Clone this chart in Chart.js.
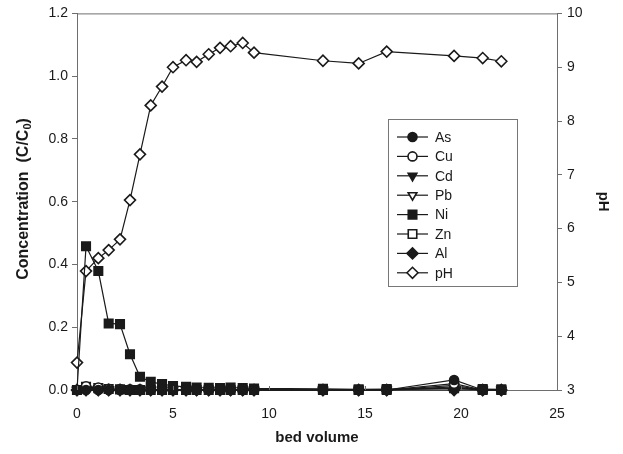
<!DOCTYPE html>
<html>
<head>
<meta charset="utf-8">
<script src="https://cdn.jsdelivr.net/npm/chart.js@4"></script>
<style>
  html, body { margin: 0; padding: 0; background: #fff; }
  #wrap { position: relative; width: 623px; height: 454px; }
</style>
</head>
<body>
<div id="wrap"><canvas id="bv-chart"></canvas></div>
<script>
const bedVolume = [0, 0.47, 1.11, 1.65, 2.24, 2.76, 3.28, 3.84, 4.43, 5.0, 5.68, 6.23, 6.86, 7.45, 8.0, 8.63, 9.22, 12.81, 14.67, 16.13, 19.64, 21.13, 22.1];
const pH = [3.51, 5.21, 5.45, 5.60, 5.80, 6.53, 7.38, 8.29, 8.64, 9.00, 9.13, 9.10, 9.24, 9.36, 9.39, 9.45, 9.27, 9.12, 9.07, 9.29, 9.21, 9.17, 9.11];
const ni = [0, 0.458, 0.379, 0.212, 0.210, 0.114, 0.042, 0.026, 0.019, 0.013, 0.010, 0.008, 0.007, 0.006, 0.008, 0.006, 0.005, 0.004, 0.002, 0.003, 0.006, 0.003, 0.002];
const as = [0, 0, 0, 0, 0, 0, 0, 0, 0, 0, 0, 0, 0, 0, 0, 0, 0, 0, 0, 0, 0.032, 0, 0];
const cu = [0, 0.012, 0.008, 0.004, 0.003, 0.002, 0.002, 0.001, 0, 0, 0, 0, 0, 0, 0, 0, 0, 0, 0, 0, 0.02, 0, 0];
const cd = [0, 0, 0, 0, 0, 0, 0, 0, 0, 0, 0, 0, 0, 0, 0, 0, 0, 0, 0, 0, 0.005, 0, 0];
const pb = [0, 0.004, 0.005, 0.002, 0, 0, 0, 0, 0, 0, 0, 0, 0, 0, 0, 0, 0, 0, 0, 0, 0.01, 0, 0];
const zn = [0, 0.01, 0.006, 0.003, 0.002, 0, 0, 0, 0, 0, 0, 0, 0, 0, 0, 0, 0, 0, 0, 0, 0.015, 0, 0];
const al = [0, 0, 0, 0, 0, 0, 0, 0, 0, 0, 0, 0, 0, 0, 0, 0, 0, 0, 0, 0, 0, 0, 0];

const ink = '#1a1a1a';
const axisGrey = '#6e6e6e';
const FONT = "'Liberation Sans', Arial, sans-serif";

const pts = arr => arr.map((v, i) => ({ x: bedVolume[i], y: v }));

function series(label, data, style, filled, size, rot, axis) {
  return {
    label: label,
    data: pts(data),
    yAxisID: axis || 'y',
    borderColor: ink,
    borderWidth: 1.2,
    pointStyle: style,
    pointRotation: rot || 0,
    pointRadius: size,
    pointBorderWidth: 1.6,
    pointBorderColor: ink,
    pointBackgroundColor: filled ? ink : '#fff',
    tension: 0,
    clip: false,
  };
}

// frame, inward x ticks, left title with subscript, boxed legend
const extras = {
  id: 'extras',
  afterDraw(chart) {
    const ctx = chart.ctx;
    const a = chart.chartArea;
    ctx.save();
    ctx.strokeStyle = axisGrey;
    ctx.lineWidth = 1;
    ctx.beginPath();
    ctx.moveTo(a.left, a.top + 0.5);
    ctx.lineTo(a.right, a.top + 0.5);
    ctx.stroke();

    const xs = chart.scales.x;
    xs.ticks.forEach(t => {
      const px = Math.round(xs.getPixelForValue(t.value)) + 0.5;
      ctx.beginPath();
      ctx.moveTo(px, a.bottom);
      ctx.lineTo(px, a.bottom - 4);
      ctx.stroke();
    });

    // y title: Concentration  (C/C0) with subscript
    ctx.translate(24, 199);
    ctx.rotate(-Math.PI / 2);
    ctx.fillStyle = ink;
    ctx.textBaseline = 'middle';
    const big = 'bold 16px ' + FONT, small = 'bold 11px ' + FONT;
    const p1 = 'Concentration  (C/C', p2 = '0', p3 = ')';
    ctx.font = big;
    const w1 = ctx.measureText(p1).width, w3 = ctx.measureText(p3).width;
    ctx.font = small;
    const w2 = ctx.measureText(p2).width;
    let x0 = -(w1 + w2 + w3) / 2;
    ctx.font = big;
    ctx.fillText(p1, x0, 0);
    ctx.font = small;
    ctx.fillText(p2, x0 + w1, 4);
    ctx.font = big;
    ctx.fillText(p3, x0 + w1 + w2, 0);
    ctx.setTransform(1, 0, 0, 1, 0, 0);

    const bx = 388, by = 119, bw = 129, bh = 167;
    ctx.fillStyle = '#fff';
    ctx.fillRect(bx, by, bw, bh);
    ctx.strokeStyle = '#777';
    ctx.strokeRect(bx + 0.5, by + 0.5, bw, bh);
    ctx.font = '14px ' + FONT;
    ctx.textBaseline = 'middle';
    chart.data.datasets.forEach((ds, i) => {
      const y = 137 + i * 19.4;
      ctx.strokeStyle = ink;
      ctx.lineWidth = 1.2;
      ctx.beginPath();
      ctx.moveTo(397, y);
      ctx.lineTo(428, y);
      ctx.stroke();
      ctx.fillStyle = ds.pointBackgroundColor;
      ctx.strokeStyle = ds.pointBorderColor;
      ctx.lineWidth = ds.pointBorderWidth;
      Chart.helpers.drawPoint(ctx, {
        pointStyle: ds.pointStyle,
        rotation: ds.pointRotation,
        radius: ds.pointRadius,
        borderWidth: ds.pointBorderWidth,
      }, 412.5, y);
      ctx.fillStyle = ink;
      ctx.fillText(ds.label, 435, y + 1);
    });
    ctx.restore();
  }
};

const config = {
  type: 'line',
  data: {
    datasets: [
      series('As', as, 'circle', true, 4.5),
      series('Cu', cu, 'circle', false, 4.5),
      series('Cd', cd, 'triangle', true, 5, 180),
      series('Pb', pb, 'triangle', false, 5, 180),
      series('Ni', ni, 'rect', true, 6),
      series('Zn', zn, 'rect', false, 6),
      series('Al', al, 'rectRot', true, 5.5),
      series('pH', pH, 'rectRot', false, 5.5, 0, 'y2'),
    ],
  },
  options: {
    responsive: false,
    animation: false,
    layout: { padding: { top: 13, left: 0, right: 0, bottom: 0 } },
    plugins: {
      legend: { display: false },
      tooltip: { enabled: false },
    },
    scales: {
      x: {
        type: 'linear',
        min: 0, max: 25,
        grid: { display: false },
        border: { color: axisGrey },
        ticks: { stepSize: 5, color: ink, font: { family: FONT, size: 14 }, padding: 8 },
        title: { display: true, text: 'bed volume', color: ink, font: { family: FONT, size: 15, weight: 'bold' }, padding: { top: 0, bottom: 7 } },
        afterFit(s) { s.height = 64; },
      },
      y: {
        position: 'left',
        min: 0, max: 1.2,
        grid: { display: true, drawOnChartArea: false, tickLength: 5, color: axisGrey },
        border: { color: axisGrey },
        ticks: { stepSize: 0.2, color: ink, font: { family: FONT, size: 14 }, padding: 4, callback: v => v.toFixed(1) },
        afterFit(s) { s.width = 77; },
      },
      y2: {
        position: 'right',
        min: 3, max: 10,
        grid: { display: true, drawOnChartArea: false, tickLength: 5, color: axisGrey },
        border: { color: axisGrey },
        ticks: { stepSize: 1, color: ink, font: { family: FONT, size: 14 }, padding: 5 },
        title: { display: true, text: 'pH', color: ink, font: { family: FONT, size: 15, weight: 'bold' }, padding: { top: 11, bottom: 0 } },
        afterFit(s) { s.width = 66; },
      },
    },
  },
  plugins: [extras],
};

const ctx = document.getElementById('bv-chart');
ctx.width = 623;
ctx.height = 454;
window.bvChart = new Chart(ctx.getContext('2d'), config);
</script>
</body>
</html>
